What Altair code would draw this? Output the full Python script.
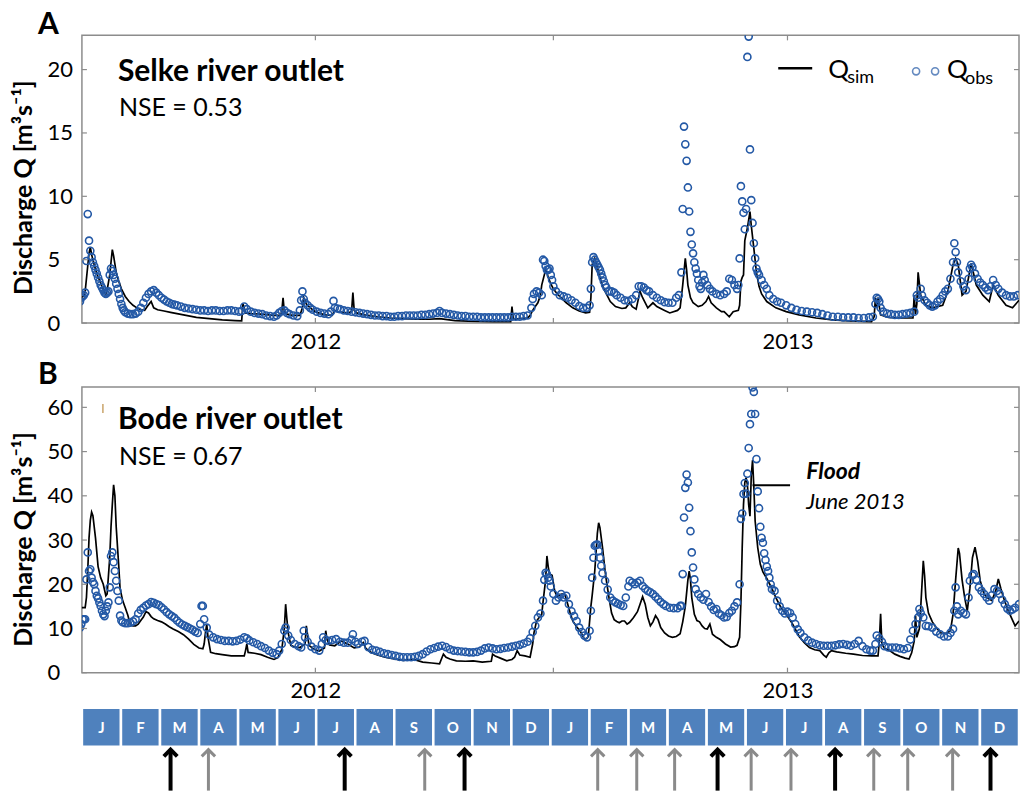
import altair as alt
import pandas as pd

# Day index counted from 1 January 2012; discharge in m3/s.
selke_sim = [
    (0, 2.0), (3, 2.1), (4, 2.5), (6, 4.5), (7, 5.5), (8, 6.0), (9, 5.4), (11, 4.6), (13, 3.9),
    (15, 3.4), (17, 2.9), (19, 2.4), (20, 2.3), (21, 2.6), (23, 3.8), (25, 5.8), (26, 5.3),
    (28, 4.0), (30, 3.3), (32, 2.7), (35, 2.1), (38, 1.7), (41, 1.4), (44, 1.2), (47, 1.05),
    (50, 1.0), (52, 1.3), (55, 1.7), (57, 1.2), (60, 1.05), (65, 0.95), (70, 0.85), (75, 0.75),
    (80, 0.65), (90, 0.45), (100, 0.35), (110, 0.25), (120, 0.2), (125, 0.18), (126, 1.5),
    (127, 1.2), (128, 0.8), (132, 0.75), (140, 0.7), (150, 0.6), (155, 0.6), (156, 0.9),
    (157, 2.0), (158, 0.9), (160, 0.7), (165, 0.6), (170, 0.6), (172, 1.2), (173, 2.0),
    (175, 1.5), (178, 1.2), (182, 0.9), (186, 0.75), (190, 0.65), (195, 0.6), (197, 1.0),
    (199, 0.9), (203, 0.85), (207, 0.8), (210, 0.9), (211, 2.4), (212, 1.0), (214, 0.8),
    (220, 0.65), (230, 0.5), (240, 0.4), (250, 0.35), (260, 0.3), (270, 0.3), (278, 0.35),
    (290, 0.2), (300, 0.15), (320, 0.12), (333, 0.12), (334, 1.3), (335, 0.3), (340, 0.35),
    (346, 0.4), (348, 0.6), (350, 1.0), (352, 1.3), (354, 1.6), (356, 2.2), (357, 3.0),
    (359, 3.8), (360, 4.2), (361, 4.0), (362, 3.6), (364, 3.1), (366, 2.7), (369, 2.3),
    (372, 2.0), (376, 1.6), (381, 1.2), (386, 0.95), (391, 0.8), (394, 0.85), (395, 2.0),
    (396, 4.6), (398, 5.1), (399, 4.8), (401, 4.0), (403, 3.2), (406, 2.5), (410, 1.7),
    (414, 1.3), (419, 1.15), (422, 1.2), (425, 1.6), (427, 1.3), (430, 1.1), (433, 2.5),
    (435, 2.0), (439, 1.2), (443, 1.6), (446, 1.3), (452, 1.0), (456, 0.8), (462, 1.0),
    (464, 1.2), (466, 3.0), (468, 5.1), (469, 4.2), (470, 3.0), (472, 2.0), (474, 1.6),
    (478, 1.3), (481, 1.4), (484, 1.7), (486, 2.1), (488, 1.6), (492, 1.2), (496, 0.9),
    (498, 0.9), (502, 0.5), (505, 0.9), (509, 1.0), (510, 1.4), (511, 3.3), (512, 3.6),
    (513, 3.8), (514, 6.5), (516, 7.5), (518, 8.8), (519, 7.7), (521, 5.9), (523, 4.0),
    (525, 2.9), (527, 2.3), (531, 1.7), (538, 1.2), (546, 0.9), (556, 0.65), (569, 0.4),
    (582, 0.25), (595, 0.17), (612, 0.12), (614, 0.5), (615, 2.0), (616, 1.2), (617, 2.0),
    (619, 0.65), (625, 0.45), (633, 0.4), (644, 0.4), (645, 2.2), (646, 0.7), (647, 1.5),
    (648, 4.0), (650, 2.2), (654, 1.4), (659, 1.2), (667, 1.4), (671, 2.5), (675, 4.6),
    (677, 5.1), (679, 4.6), (682, 2.2), (685, 2.5), (689, 4.7), (693, 3.0), (698, 2.2),
    (703, 1.7), (706, 3.0), (710, 2.2), (716, 1.4), (721, 1.2), (726, 1.8),
]

selke_obs = [
    (0, 1.7), (1, 2.0), (2, 2.1), (3, 2.2), (4, 2.4), (5, 4.9), (6, 8.6), (7, 6.5), (8, 5.7),
    (9, 5.2), (10, 4.8), (11, 4.5), (12, 4.2), (13, 3.9), (14, 3.6), (15, 3.3), (16, 3.0),
    (17, 2.8), (18, 2.6), (19, 2.4), (20, 2.3), (21, 2.4), (22, 2.5), (23, 3.8), (24, 4.3),
    (25, 4.1), (26, 3.8), (27, 3.5), (28, 3.1), (29, 2.7), (30, 2.3), (31, 1.9), (32, 1.5),
    (33, 1.2), (34, 1.0), (35, 0.85), (37, 0.75), (39, 0.7), (41, 0.7), (43, 0.75), (45, 0.9),
    (47, 1.2), (49, 1.6), (51, 2.0), (53, 2.3), (55, 2.5), (57, 2.6), (59, 2.4), (61, 2.2),
    (63, 2.0), (65, 1.85), (67, 1.7), (69, 1.6), (71, 1.5), (73, 1.45), (75, 1.4), (78, 1.3),
    (81, 1.2), (84, 1.15), (87, 1.1), (90, 1.05), (93, 1.0), (96, 1.0), (99, 0.95), (102, 1.0),
    (105, 1.0), (108, 0.95), (111, 0.95), (114, 1.0), (117, 1.0), (120, 0.95), (123, 0.9),
    (125, 0.95), (127, 1.3), (129, 1.1), (132, 0.9), (135, 0.8), (138, 0.75), (141, 0.7),
    (144, 0.6), (147, 0.55), (150, 0.5), (152, 0.6), (154, 0.8), (156, 0.95), (158, 1.0),
    (160, 0.8), (162, 0.7), (165, 0.6), (168, 0.55), (170, 1.0), (171, 1.8), (172, 2.5),
    (173, 1.9), (174, 1.6), (176, 1.4), (178, 1.2), (180, 1.05), (183, 0.9), (186, 0.8),
    (189, 0.75), (192, 0.7), (194, 0.9), (196, 1.75), (197, 1.2), (199, 1.15), (201, 1.1),
    (204, 1.0), (207, 0.95), (210, 0.9), (213, 0.85), (216, 0.8), (219, 0.75), (222, 0.7),
    (225, 0.65), (228, 0.6), (231, 0.6), (234, 0.55), (237, 0.55), (240, 0.5), (243, 0.5),
    (246, 0.55), (249, 0.55), (252, 0.6), (255, 0.6), (258, 0.6), (261, 0.6), (264, 0.65),
    (267, 0.65), (270, 0.7), (273, 0.75), (276, 0.8), (278, 0.95), (280, 0.8), (283, 0.75),
    (286, 0.7), (289, 0.65), (292, 0.6), (295, 0.55), (298, 0.55), (301, 0.5), (304, 0.5),
    (307, 0.5), (310, 0.45), (313, 0.45), (316, 0.45), (319, 0.45), (322, 0.45), (325, 0.45),
    (328, 0.45), (331, 0.45), (334, 0.5), (337, 0.5), (340, 0.5), (343, 0.55), (346, 0.6),
    (349, 1.2), (350, 1.9), (351, 2.3), (353, 2.5), (355, 2.4), (357, 2.2), (358, 5.0),
    (359, 4.9), (360, 4.5), (361, 4.2), (362, 4.2), (363, 4.3), (364, 3.8), (365, 3.4),
    (366, 2.9), (368, 2.5), (371, 2.2), (374, 2.1), (377, 2.0), (380, 1.8), (383, 1.6),
    (386, 1.35), (389, 1.2), (392, 1.2), (394, 1.4), (395, 2.7), (396, 4.8), (397, 5.2),
    (398, 5.0), (399, 4.8), (400, 4.6), (401, 4.4), (402, 4.2), (403, 3.9), (404, 3.6),
    (405, 3.3), (406, 3.0), (407, 2.8), (409, 2.5), (411, 2.5), (413, 2.4), (415, 2.2),
    (418, 2.0), (421, 1.8), (424, 1.75), (427, 1.9), (430, 2.2), (432, 2.9), (434, 2.9),
    (436, 2.8), (438, 2.6), (440, 2.5), (443, 2.2), (446, 2.0), (449, 1.8), (452, 1.65),
    (455, 1.6), (458, 1.6), (461, 2.0), (463, 2.2), (465, 4.0), (466, 9.0), (467, 15.5),
    (468, 14.1), (469, 12.8), (470, 10.7), (471, 8.8), (472, 7.2), (473, 6.2), (474, 5.5),
    (475, 4.8), (476, 4.3), (477, 3.9), (478, 3.4), (479, 2.9), (480, 2.7), (481, 3.2),
    (482, 3.8), (483, 3.4), (485, 3.0), (487, 2.7), (489, 2.5), (492, 2.3), (495, 2.2),
    (498, 2.3), (500, 2.5), (502, 3.5), (504, 3.4), (506, 3.0), (508, 2.7), (509, 3.0),
    (510, 5.1), (511, 10.8), (512, 9.6), (513, 8.7), (514, 7.4), (515, 9.0), (516, 21.0),
    (517, 22.6), (518, 13.7), (519, 9.7), (520, 7.9), (521, 6.3), (522, 5.1), (523, 4.3),
    (524, 4.0), (525, 3.8), (527, 3.4), (529, 3.0), (531, 2.7), (533, 2.2), (536, 1.9),
    (539, 1.7), (542, 1.6), (546, 1.4), (550, 1.2), (554, 1.05), (558, 0.95), (562, 0.9),
    (566, 0.85), (570, 0.8), (574, 0.7), (578, 0.6), (582, 0.5), (586, 0.5), (590, 0.45),
    (594, 0.45), (598, 0.45), (602, 0.4), (606, 0.4), (610, 0.45), (613, 0.5), (615, 1.5),
    (616, 2.0), (617, 1.9), (618, 1.7), (619, 1.2), (621, 0.9), (624, 0.75), (627, 0.7),
    (630, 0.65), (633, 0.65), (636, 0.7), (639, 0.75), (642, 0.8), (645, 0.9), (647, 2.2),
    (648, 2.0), (650, 2.7), (651, 2.2), (653, 1.8), (655, 1.6), (657, 1.4), (659, 1.3),
    (661, 1.4), (663, 1.7), (665, 1.9), (667, 2.2), (669, 2.5), (671, 2.7), (673, 3.5),
    (675, 4.8), (676, 6.3), (677, 5.6), (678, 4.8), (679, 4.0), (681, 3.3), (683, 2.9),
    (685, 2.6), (687, 3.5), (688, 4.3), (689, 4.6), (690, 4.4), (692, 3.9), (694, 3.5),
    (696, 3.2), (698, 3.0), (700, 2.8), (702, 2.6), (704, 2.9), (706, 3.4), (708, 3.0),
    (710, 2.7), (713, 2.4), (716, 2.2), (719, 2.1), (722, 2.1), (725, 2.2),
]

bode_sim = [
    (0, 14.7), (4, 14.7), (5, 17.0), (6, 23.0), (7, 30.5), (8, 34.5), (9, 36.3), (10, 35.5),
    (12, 30.5), (14, 24.0), (16, 21.5), (18, 20.0), (20, 17.4), (21, 17.8), (23, 26.0),
    (24, 33.0), (25, 38.0), (26, 42.5), (27, 40.0), (28, 33.0), (30, 24.0), (31, 19.0),
    (33, 16.3), (35, 14.7), (37, 13.0), (39, 10.8), (41, 10.6), (43, 10.6), (45, 11.0),
    (47, 11.8), (49, 12.6), (51, 13.8), (53, 13.5), (55, 12.7), (57, 12.2), (60, 11.8),
    (63, 11.5), (66, 11.0), (69, 10.4), (72, 9.9), (76, 9.3), (80, 8.6), (84, 7.6), (88, 6.4),
    (92, 5.6), (95, 5.4), (96, 6.5), (97, 9.0), (98, 11.0), (99, 8.0), (101, 4.6), (105, 4.3),
    (110, 4.1), (117, 3.8), (122, 3.8), (127, 3.8), (128, 5.0), (129, 6.5), (130, 4.6),
    (135, 4.4), (140, 4.1), (145, 3.5), (150, 3.0), (153, 3.4), (156, 5.2), (158, 10.0),
    (159, 15.5), (160, 12.0), (161, 9.0), (163, 6.2), (166, 5.8), (170, 5.7), (174, 6.5),
    (175, 10.6), (176, 8.5), (177, 6.2), (181, 5.3), (185, 4.9), (189, 5.6), (190, 9.5),
    (191, 7.5), (193, 6.3), (197, 6.1), (202, 7.2), (207, 6.5), (212, 5.6), (216, 5.8),
    (219, 6.8), (221, 5.5), (225, 4.6), (230, 4.0), (236, 3.5), (243, 3.1), (250, 2.8),
    (258, 3.0), (265, 2.4), (272, 2.2), (278, 2.0), (280, 3.5), (281, 4.2), (283, 3.5),
    (286, 3.1), (291, 2.7), (298, 2.6), (304, 2.7), (311, 2.4), (318, 2.6), (319, 4.2),
    (321, 3.8), (325, 3.3), (330, 2.7), (334, 3.0), (336, 3.5), (338, 5.0), (340, 4.0),
    (344, 3.8), (348, 3.5), (350, 6.5), (351, 9.0), (353, 11.7), (355, 12.5), (357, 13.2),
    (358, 16.0), (360, 21.0), (361, 26.4), (362, 24.0), (363, 22.3), (365, 22.0), (367, 18.5),
    (369, 17.2), (371, 17.6), (373, 17.8), (375, 17.6), (377, 15.6), (379, 13.5), (381, 11.7),
    (384, 10.4), (387, 9.3), (390, 7.6), (392, 7.8), (393, 8.2), (395, 15.0), (396, 17.5),
    (398, 23.0), (400, 31.5), (401, 33.9), (402, 32.8), (404, 28.3), (406, 23.0), (407, 20.8),
    (409, 17.0), (411, 13.5), (413, 12.0), (415, 11.6), (417, 11.3), (419, 11.7), (421, 11.7),
    (423, 11.0), (425, 11.4), (428, 12.5), (431, 13.8), (433, 15.5), (435, 17.2), (437, 15.5),
    (439, 12.5), (441, 10.6), (443, 11.5), (445, 12.9), (447, 12.0), (449, 10.2), (452, 9.0),
    (455, 8.3), (458, 8.0), (461, 8.2), (464, 8.8), (466, 11.5), (468, 15.0), (470, 21.0),
    (471, 23.0), (472, 21.0), (473, 17.0), (475, 13.2), (477, 11.8), (479, 11.5), (481, 10.6),
    (483, 10.0), (485, 9.9), (487, 11.0), (489, 8.7), (492, 8.0), (495, 7.5), (499, 6.5),
    (503, 5.8), (506, 5.9), (508, 6.2), (510, 8.0), (511, 16.0), (512, 28.3), (513, 38.0),
    (514, 43.0), (515, 44.1), (516, 42.6), (517, 38.0), (518, 35.4), (519, 44.5), (520, 48.1),
    (521, 42.0), (522, 34.3), (524, 28.3), (526, 24.5), (528, 22.8), (531, 21.3), (535, 19.0),
    (538, 17.0), (542, 14.7), (546, 13.2), (551, 11.0), (556, 8.2), (560, 6.8), (564, 5.7),
    (568, 5.2), (572, 5.0), (575, 4.0), (577, 3.5), (579, 4.5), (581, 5.0), (585, 4.7),
    (592, 4.4), (598, 4.2), (605, 3.9), (612, 3.8), (617, 3.8), (618, 7.0), (619, 13.3),
    (620, 6.5), (622, 5.5), (626, 5.0), (630, 4.2), (634, 3.7), (638, 3.3), (641, 3.1),
    (643, 4.5), (645, 7.2), (646, 12.9), (647, 8.0), (649, 10.0), (650, 14.7), (651, 20.0),
    (652, 25.3), (653, 22.0), (654, 17.0), (656, 13.5), (659, 11.5), (662, 10.2), (666, 8.9),
    (670, 8.9), (673, 9.5), (675, 13.2), (677, 21.0), (679, 28.2), (680, 27.0), (682, 21.0),
    (684, 17.0), (686, 14.0), (688, 19.0), (690, 26.0), (692, 28.4), (694, 25.3), (696, 20.8),
    (699, 17.8), (702, 16.8), (705, 16.3), (708, 18.5), (710, 21.2), (712, 19.0), (714, 17.0),
    (717, 14.5), (720, 12.5), (723, 10.6), (726, 11.7),
]

bode_obs = [
    (0, 10.2), (1, 11.0), (2, 12.1), (3, 12.1), (4, 12.1), (5, 21.1), (6, 27.2), (7, 23.0),
    (8, 23.4), (9, 21.5), (10, 20.5), (11, 20.0), (12, 18.5), (13, 17.4), (14, 16.8),
    (15, 15.9), (16, 15.1), (17, 14.0), (18, 13.2), (19, 12.8), (20, 14.0), (21, 15.0),
    (22, 15.9), (23, 19.3), (24, 26.4), (25, 27.2), (26, 25.0), (27, 23.0), (28, 20.8),
    (29, 18.5), (30, 16.3), (31, 12.9), (32, 11.8), (33, 11.4), (35, 11.2), (37, 11.2),
    (39, 11.3), (41, 11.6), (43, 12.1), (45, 13.4), (47, 14.2), (49, 14.7), (51, 15.2),
    (53, 15.5), (55, 16.0), (57, 15.8), (59, 15.5), (61, 15.3), (63, 14.8), (65, 14.3),
    (67, 13.7), (69, 13.2), (71, 12.8), (73, 12.4), (75, 11.8), (77, 11.3), (79, 10.9),
    (81, 10.6), (83, 10.3), (85, 10.0), (87, 9.7), (89, 9.3), (91, 9.0), (93, 11.0), (94, 15.1),
    (95, 15.1), (96, 12.1), (98, 10.2), (100, 8.6), (103, 8.0), (106, 7.6), (109, 7.4),
    (112, 7.2), (115, 7.2), (118, 7.1), (121, 7.2), (124, 7.5), (127, 8.0), (129, 7.8),
    (131, 7.3), (134, 6.9), (137, 6.5), (140, 6.0), (143, 5.6), (146, 5.0), (149, 4.5),
    (152, 4.2), (154, 5.0), (156, 6.5), (158, 9.5), (159, 10.2), (161, 8.4), (163, 7.4),
    (166, 6.5), (169, 6.0), (171, 5.7), (173, 9.5), (174, 8.0), (176, 7.0), (179, 5.9),
    (182, 5.3), (185, 5.0), (187, 6.5), (188, 8.0), (190, 7.4), (192, 7.2), (195, 7.4),
    (198, 7.6), (201, 7.0), (204, 6.8), (207, 6.8), (210, 7.5), (211, 8.7), (213, 7.0),
    (215, 6.5), (218, 7.0), (220, 7.2), (223, 5.8), (226, 5.2), (229, 5.0), (232, 4.7),
    (235, 4.4), (238, 4.2), (241, 4.0), (244, 3.8), (247, 3.6), (250, 3.5), (253, 3.5),
    (256, 3.5), (259, 3.6), (262, 3.8), (265, 4.2), (268, 4.8), (271, 5.3), (274, 5.6),
    (277, 5.9), (280, 6.1), (283, 5.8), (286, 5.3), (289, 5.0), (292, 4.9), (295, 4.8),
    (298, 4.7), (301, 4.6), (304, 4.6), (307, 4.7), (310, 5.0), (313, 5.5), (316, 5.7),
    (319, 5.5), (322, 5.3), (325, 5.4), (328, 5.6), (331, 5.7), (334, 5.9), (337, 6.1),
    (340, 6.3), (343, 6.6), (346, 7.0), (348, 7.8), (350, 9.2), (352, 10.6), (354, 12.5),
    (356, 13.4), (358, 16.3), (359, 21.0), (360, 22.6), (361, 22.3), (362, 21.5), (363, 20.8),
    (364, 19.5), (366, 17.8), (368, 16.3), (370, 17.0), (372, 17.8), (374, 17.0), (376, 17.4),
    (378, 15.5), (380, 13.9), (382, 12.8), (384, 11.7), (386, 10.2), (388, 9.2), (390, 8.4),
    (392, 8.0), (394, 9.5), (395, 14.0), (396, 21.5), (397, 26.0), (398, 28.7), (399, 28.9),
    (400, 29.0), (401, 27.5), (402, 26.0), (403, 24.2), (404, 22.5), (406, 20.8), (408, 18.8),
    (410, 17.0), (412, 16.3), (414, 15.9), (416, 15.6), (418, 15.3), (420, 15.1), (422, 17.0),
    (424, 19.5), (425, 20.8), (427, 20.4), (429, 20.0), (431, 20.4), (433, 20.8), (435, 19.6),
    (437, 19.0), (439, 18.5), (441, 18.2), (443, 17.8), (445, 17.2), (447, 16.6), (449, 16.0),
    (451, 15.5), (453, 15.1), (456, 14.7), (459, 14.6), (462, 14.6), (464, 15.1), (465, 15.1),
    (466, 22.3), (467, 35.1), (468, 41.8), (469, 44.8), (470, 43.0), (471, 37.3), (472, 32.0),
    (473, 27.2), (474, 23.8), (475, 21.1), (476, 18.9), (478, 17.8), (480, 17.0), (482, 16.5),
    (484, 17.8), (486, 16.0), (488, 15.0), (490, 14.2), (492, 14.4), (494, 13.4), (496, 13.0),
    (498, 12.5), (500, 12.6), (502, 13.5), (504, 14.0), (506, 15.0), (508, 15.9), (510, 20.0),
    (511, 34.8), (512, 36.0), (513, 40.4), (514, 42.9), (515, 40.5), (516, 45.0), (517, 50.8),
    (518, 56.2), (519, 58.5), (520, 64.5), (521, 63.5), (522, 58.5), (523, 48.3), (524, 41.0),
    (525, 37.2), (526, 33.0), (527, 30.5), (528, 29.4), (529, 27.0), (530, 25.5), (531, 24.0),
    (532, 23.0), (533, 21.5), (534, 20.0), (535, 18.9), (537, 18.5), (539, 16.3), (541, 15.0),
    (543, 14.0), (545, 13.4), (547, 13.8), (549, 13.5), (551, 12.5), (553, 11.0), (555, 9.8),
    (557, 9.0), (560, 8.0), (563, 7.3), (566, 6.8), (569, 6.5), (572, 6.2), (575, 6.1),
    (578, 6.1), (581, 6.1), (584, 6.2), (587, 6.4), (590, 6.5), (593, 6.3), (596, 6.1),
    (599, 6.5), (602, 7.2), (605, 6.0), (608, 5.3), (611, 5.0), (613, 5.0), (615, 6.5),
    (616, 8.4), (618, 7.8), (620, 7.0), (622, 6.0), (625, 5.7), (628, 5.7), (631, 5.7),
    (634, 5.5), (637, 5.3), (640, 5.6), (642, 7.5), (644, 9.5), (646, 11.0), (648, 12.5),
    (649, 14.4), (650, 13.5), (652, 12.5), (654, 10.6), (656, 10.5), (659, 10.2), (662, 9.3),
    (665, 8.7), (668, 8.2), (671, 8.2), (673, 9.0), (675, 9.9), (676, 14.0), (677, 19.3),
    (678, 15.0), (679, 13.2), (681, 14.0), (683, 13.5), (685, 13.2), (687, 17.0), (688, 20.8),
    (690, 22.0), (691, 22.3), (693, 21.0), (695, 19.3), (697, 18.5), (699, 17.8), (701, 17.0),
    (703, 16.3), (705, 17.5), (707, 18.9), (709, 18.5), (711, 17.8), (713, 16.5), (715, 15.5),
    (717, 14.5), (719, 14.0), (721, 14.3), (723, 14.7), (726, 15.5),
]

month_letters = ["J", "F", "M", "A", "M", "J", "J", "A", "S", "O", "N", "D"] * 2
# Sampling campaigns, in months since 1 Jan 2012
campaign_month = [2.27, 3.24, 6.73, 8.78, 9.80, 13.21, 14.21, 15.18, 16.28, 17.14,
                  18.16, 19.29, 20.28, 21.15, 22.30, 23.27]
campaign_kind = ["main", "extra", "main", "extra", "main", "extra", "extra", "extra",
                 "main", "extra", "extra", "main", "extra", "extra", "extra", "main"]

FONT = "Lato"
W = 938
DAY_MIN, DAY_MAX = 1.5, 726
OBS_BLUE = "#2459a6"
FRAME = "#8c8c8c"


def pairs(rows):
    return pd.DataFrame(rows, columns=["day", "q"])


def one(**kw):
    return pd.DataFrame({k: [v] for k, v in kw.items()})


def text(label, x, y, size, weight="normal", style="normal", align="left", color="black"):
    return alt.Chart(one(t=label)).mark_text(
        font=FONT, fontSize=size, fontWeight=weight, fontStyle=style, align=align,
        baseline="alphabetic", color=color,
    ).encode(text="t:N", x=alt.value(x), y=alt.value(y))


def panel(sim, obs, ymax, yvals, height, name, nse, letter, extras):
    x = alt.X("day:Q", scale=alt.Scale(domain=[DAY_MIN, DAY_MAX], nice=False, zero=False),
              axis=alt.Axis(values=[182, 547], labelExpr="datum.value < 366 ? '2012' : '2013'",
                            ticks=False, domain=False, grid=False, labelFont=FONT,
                            labelFontSize=22, labelColor="black", labelPadding=8, title=None))
    y = alt.Y("q:Q", scale=alt.Scale(domain=[0, ymax], nice=False),
              axis=alt.Axis(values=yvals, ticks=False, domain=False, grid=False,
                            labelAlign="left", labelPadding=35, labelFont=FONT,
                            labelFontSize=22, labelColor="black",
                            title="Discharge Q [m³s⁻¹]", titleFont=FONT, titleFontSize=25,
                            titleFontWeight="bold", titleColor="black", titleX=-58,
                            titleY=152, titleAngle=270, titleAlign="center",
                            titleBaseline="middle"))
    line = alt.Chart(pairs(sim)).mark_line(color="black", strokeWidth=1.7, clip=True).encode(x=x, y=y)
    pts = alt.Chart(pairs(obs)).mark_point(
        shape="circle", filled=False, size=50, strokeWidth=1.6, color=OBS_BLUE,
        opacity=1, clip=True,
    ).encode(x="day:Q", y="q:Q")
    # inward tick marks on all four sides
    yt = pd.DataFrame({"q": yvals})
    xt = pd.DataFrame({"day": [182, 366, 547]})
    tick = dict(color=FRAME, strokeWidth=1.2)
    ticks = [
        alt.Chart(yt).mark_rule(**tick).encode(y="q:Q", x=alt.value(0), x2=alt.value(5)),
        alt.Chart(yt).mark_rule(**tick).encode(y="q:Q", x=alt.value(W - 5), x2=alt.value(W)),
        alt.Chart(xt).mark_rule(**tick).encode(x="day:Q", y=alt.value(0), y2=alt.value(5)),
        alt.Chart(xt).mark_rule(**tick).encode(x="day:Q", y=alt.value(height - 5), y2=alt.value(height)),
    ]
    labels = [
        text(name[0], 36, name[1], 30, weight="bold"),
        text(nse[0], 37, nse[1], 25),
        text(letter[0], -44, letter[1], 30, weight="bold"),
    ]
    return alt.layer(line, pts, *ticks, *labels, *extras).properties(
        width=W, height=height, view=alt.ViewBackground(stroke=FRAME, strokeWidth=1.5)
    )


# legend and origin anchor for panel A
anchor = alt.Chart(one(a=0)).mark_rule(strokeOpacity=0).encode(
    x=alt.value(-81), x2=alt.value(0), y=alt.value(-34))
legend = [
    alt.Chart(one(a=0)).mark_rule(color="black", strokeWidth=2.5).encode(
        x=alt.value(697), x2=alt.value(731), y=alt.value(33)),
    text("Q", 747, 43, 26),
    text("sim", 766, 48, 18),
    alt.Chart(one(a=0)).mark_point(shape="circle", filled=False, size=50, strokeWidth=1.6,
                                  color=OBS_BLUE).encode(x=alt.value(835), y=alt.value(36)),
    alt.Chart(one(a=0)).mark_point(shape="circle", filled=False, size=50, strokeWidth=1.6,
                                  color=OBS_BLUE).encode(x=alt.value(854), y=alt.value(36)),
    text("Q", 866, 43, 26),
    text("obs", 884, 49, 18),
]

panel_a = panel(selke_sim, selke_obs, 22.7, [0, 5, 10, 15, 20], 288,
                ("Selke river outlet", 46), ("NSE = 0.53", 81), ("A", -1), [anchor] + legend)

flood = [
    alt.Chart(one(day=520, day2=549, q=42.4)).mark_rule(color="black", strokeWidth=2).encode(
        x="day:Q", x2="day2:Q", y="q:Q"),
    alt.Chart(one(day=561.5, q=43.8, t="Flood")).mark_text(
        font=FONT, fontSize=23, fontWeight="bold", fontStyle="italic", align="left",
        baseline="alphabetic").encode(x="day:Q", y="q:Q", text="t:N"),
    alt.Chart(one(day=561.5, q=37.0, t="June 2013")).mark_text(
        font=FONT, fontSize=22, fontStyle="italic", align="left",
        baseline="alphabetic").encode(x="day:Q", y="q:Q", text="t:N"),
    alt.Chart(one(a=0)).mark_rule(color="#c9a46a", strokeWidth=1.5).encode(
        x=alt.value(21), y=alt.value(17), y2=alt.value(26)),
]

panel_b = panel(bode_sim, bode_obs, 64.6, [0, 10, 20, 30, 40, 50, 60], 286,
                ("Bode river outlet", 42), ("NSE = 0.67", 78), ("B", -3), flood)

# month strip with sampling arrows; the strip's own frame starts 29 px below the boxes' top
months = pd.DataFrame({"i": list(range(24)), "m": month_letters})
mx = alt.Scale(domain=[0, 24], nice=False, zero=False)
boxes = alt.Chart(months).transform_calculate(i2="datum.i + 1").mark_rect(
    color="#4f81bd", stroke="white", strokeWidth=2.5
).encode(x=alt.X("i:Q", scale=mx, axis=None), x2="i2:Q", y=alt.value(-29), y2=alt.value(10))
letters = alt.Chart(months).transform_calculate(c="datum.i + 0.5").mark_text(
    font=FONT, fontSize=15, fontWeight="bold", color="white", baseline="middle"
).encode(x=alt.X("c:Q", scale=mx, axis=None), y=alt.value(-9), text="m:N")

camp = pd.DataFrame({"pos": campaign_month, "kind": campaign_kind})
kcolor = alt.Color("kind:N", scale=alt.Scale(domain=["main", "extra"], range=["#000000", "#8a8a8a"]), legend=None)
kwidth = alt.StrokeWidth("kind:N", scale=alt.Scale(domain=["main", "extra"], range=[4, 3]), legend=None)
shafts = alt.Chart(camp).mark_rule().encode(
    x=alt.X("pos:Q", scale=mx, axis=None), y=alt.value(14), y2=alt.value(54),
    color=kcolor, strokeWidth=kwidth)
heads = alt.Chart(camp).mark_point(
    shape="M-1,0.55L0,-0.45L1,0.55", filled=False, size=180, opacity=1
).encode(x=alt.X("pos:Q", scale=mx, axis=None), y=alt.value(16), color=kcolor, strokeWidth=kwidth)

strip = alt.layer(boxes, letters, shafts, heads).properties(
    width=W, height=54, view=alt.ViewBackground(stroke="transparent"))

chart = alt.vconcat(panel_a, panel_b, strip, spacing=64, bounds="flush").properties(
    padding={"left": 0, "top": 0, "right": 0, "bottom": 1}
).configure(background="white")

chart.save("out.html", embed_options={"renderer": "svg", "actions": False})
